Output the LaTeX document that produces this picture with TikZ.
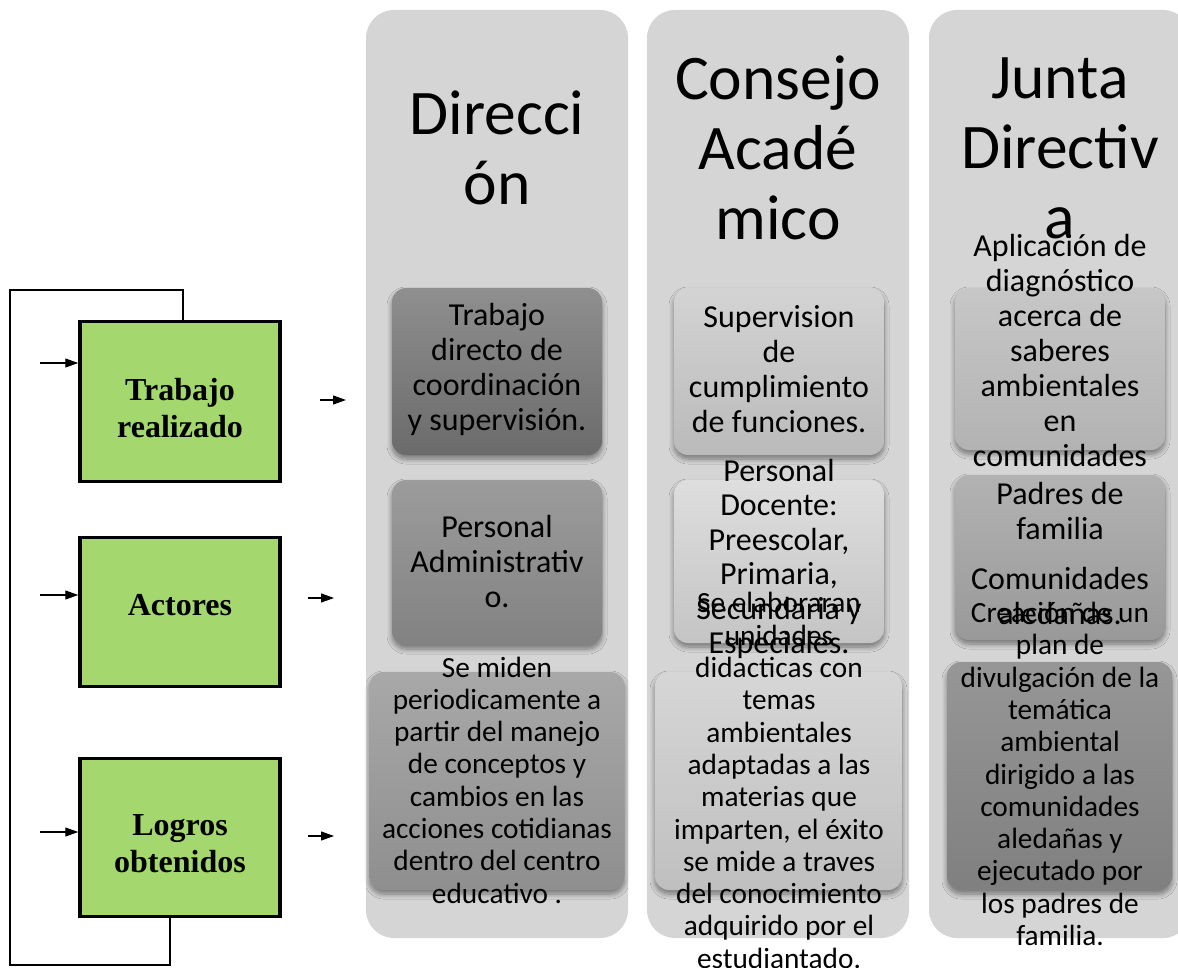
\documentclass[tikz,border=0pt]{standalone}
\usepackage{fontspec}
\setmainfont{Carlito}
\newfontfamily\serifbold{Liberation Serif}
\usetikzlibrary{arrows.meta,shadows.blur}

\definecolor{laneGray}{RGB}{213,213,213}
\definecolor{boxGreen}{RGB}{164,215,110}

\tikzset{every picture/.style={line width=0.75pt}}

\begin{document}
\begin{tikzpicture}[x=1pt,y=1pt,yscale=-1,xscale=1,
	lane/.style={fill=laneGray, rounded corners=28pt, minimum width=262pt, minimum height=928pt, inner sep=0pt},
	card/.style={rounded corners=14pt, inner sep=0pt, blur shadow={shadow xshift=0pt, shadow yshift=-4pt, shadow blur radius=5pt, shadow blur steps=8, shadow opacity=45}},
	head/.style={font=\fontsize{63.5}{70}\selectfont, align=center, inner sep=0pt},
	txt/.style={font=\fontsize{32}{35}\selectfont, align=center, inner sep=0pt},
	txts/.style={font=\fontsize{29.3}{32.3}\selectfont, align=center, inner sep=0pt},
	greenbox/.style={draw, line width=3.5pt, fill=boxGreen, minimum width=200pt, inner sep=0pt},
	gtxt/.style={align=center, inner sep=0pt, font=\serifbold\bfseries\fontsize{32}{37}\selectfont},
	flow/.style={-{Triangle[length=13pt,width=9pt]}, line width=1.2pt}]
	\useasboundingbox (0,0) rectangle (1178,968);
	\clip (0,0) rectangle (1178,968);

	%Shape: Rounded Rectangle [lanes]
	\node[lane] (dir) at (497,474) {};
	\node[lane] (cons) at (778,474) {};
	\node[lane] (junta) at (1060,474) {};

	% Text Node
	\node[head] (dirT) at (497,148) {Direcci\\ón};
	% Text Node
	\node[head] (consT) at (778,148) {Consejo\\Acadé\\mico};
	% Text Node
	\node[head] (juntaT) at (1060,148) {Junta\\Directiv\\a};

	%Shape: Rounded Rectangle [cards]
	\node[card, top color=black!44, bottom color=black!58, minimum width=210pt, minimum height=167pt] (dirA) at (497,371.5) {};
	\node[card, top color=black!39, bottom color=black!49, minimum width=210pt, minimum height=165pt] (dirB) at (497,562.5) {};
	\node[card, top color=black!34, bottom color=black!44, minimum width=255pt, minimum height=218pt] (dirC) at (497,781) {};
	\node[card, top color=black!17, bottom color=black!27, minimum width=210pt, minimum height=167pt] (consA) at (779,371.5) {};
	\node[card, top color=black!13, bottom color=black!23, minimum width=210pt, minimum height=163pt] (consB) at (779,561.5) {};
	\node[card, top color=black!16, bottom color=black!25, minimum width=247pt, minimum height=218pt] (consC) at (778.5,781) {};
	\node[card, top color=black!22, bottom color=black!30, minimum width=210pt, minimum height=162pt] (juntaA) at (1060,369) {};
	\node[card, top color=black!30, bottom color=black!40, minimum width=210pt, minimum height=165pt] (juntaB) at (1060,557.5) {};
	\node[card, top color=black!41, bottom color=black!50, minimum width=225pt, minimum height=228pt] (juntaC) at (1059.5,776) {};

	% Text Node
	\node[txt] (dirAT) at (497,369.5) {Trabajo\\directo de\\coordinación\\y supervisión.};
	% Text Node
	\node[txt] (dirBT) at (497,562) {Personal\\Administrativ\\o.};
	% Text Node
	\node[txts] (dirCT) at (497,780) {Se miden\\periodicamente a\\partir del manejo\\de conceptos y\\cambios en las\\acciones cotidianas\\dentro del centro\\educativo .};
	% Text Node
	\node[txt] (consAT) at (779,369.5) {Supervision\\de\\cumplimiento\\de funciones.};
	% Text Node
	\node[txt, font=\fontsize{32}{34.5}\selectfont] (consBT) at (779,559) {Personal\\Docente:\\Preescolar,\\Primaria,\\Secundaria y\\Especiales.};
	% Text Node
	\node[txts] (consCT) at (779,780.5) {Se elaboraran\\unidades\\didacticas con\\temas\\ambientales\\adaptadas a las\\materias que\\imparten, el éxito\\se mide a traves\\del conocimiento\\adquirido por el\\estudiantado.};
	% Text Node
	\node[txt] (juntaAT) at (1060,350.5) {Aplicación de\\diagnóstico\\acerca de\\saberes\\ambientales\\en\\comunidades};
	% Text Node
	\node[txt] (juntaBT) at (1060,553.5) {Padres de\\familia\\[15pt]Comunidades\\aledañas.};
	% Text Node
	\node[txts] (juntaCT) at (1060,774) {Creación de un\\plan de\\divulgación de la\\temática\\ambiental\\dirigido a las\\comunidades\\aledañas y\\ejecutado por\\los padres de\\familia.};

	%Shape: Rectangle [green boxes]
	\node[greenbox, minimum height=160pt] (trab) at (180,401.5) {};
	\node[greenbox, minimum height=149pt] (act) at (180,612) {};
	\node[greenbox, minimum height=158pt] (logros) at (180,837.5) {};
	% Text Node
	\node[gtxt] (trabT) at (180,408.5) {Trabajo\\realizado};
	% Text Node
	\node[gtxt] (actT) at (180,605) {Actores};
	% Text Node
	\node[gtxt] (logrosT) at (180,843.5) {Logros\\obtenidos};

	%Straight Lines [feedback loop]
	\coordinate (fbBot) at (10,965);
	\coordinate (fbTop) at (10,290);
	\draw[line width=1.3pt] ([xshift=-10pt]logros.south) |- (fbBot) -- (fbTop) -| ([xshift=3pt]trab.north);

	%Straight Lines [inputs]
	\coordinate (in1) at (40,363);
	\coordinate (in2) at (40,595);
	\coordinate (in3) at (40,832);
	\draw[flow] (in1) -- (in1 -| trab.west);
	\draw[flow] (in2) -- (in2 -| act.west);
	\draw[flow] (in3) -- (in3 -| logros.west);

	%Straight Lines [outputs]
	\coordinate (out1) at (320,400);
	\coordinate (out2) at (308,598);
	\coordinate (out3) at (308,836);
	\draw[flow] (out1) -- ++(26,0);
	\draw[flow] (out2) -- ++(26,0);
	\draw[flow] (out3) -- ++(26,0);

\end{tikzpicture}
\end{document}
